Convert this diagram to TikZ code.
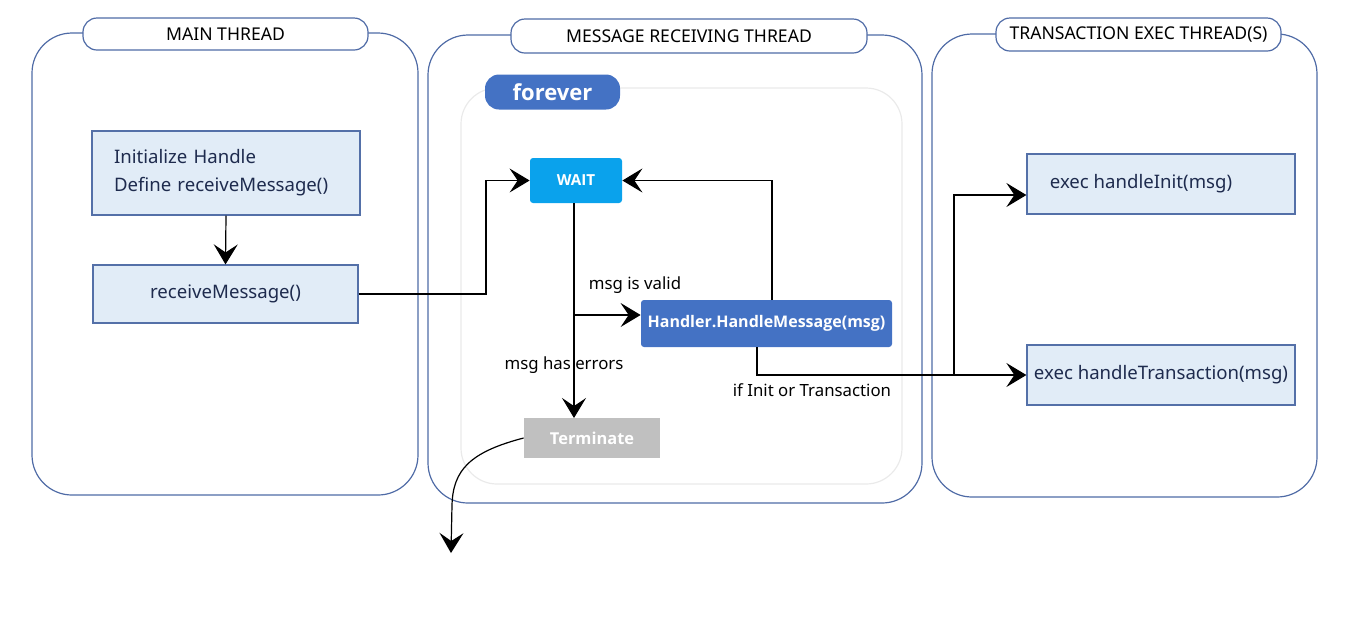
\documentclass[tikz,border=0pt]{standalone}
\usepackage{fontspec}
\setmainfont{Noto Sans}
\newfontfamily\boldsans{Open Sans}
\usetikzlibrary{arrows.meta}
\definecolor{frameblue}{HTML}{4F6BA6}
\definecolor{boxfill}{HTML}{E1ECF7}
\definecolor{boxline}{HTML}{5470A8}
\definecolor{boxtext}{HTML}{1E2B4E}
\definecolor{darkblue}{HTML}{4472C4}
\definecolor{skyblue}{HTML}{0AA2EC}
\definecolor{termgray}{HTML}{C0C0C0}
\definecolor{innerline}{HTML}{EAEAEA}
\tikzset{
  container/.style={draw=frameblue, line width=0.6pt, rounded corners=20pt, inner sep=0pt},
  pill/.style={draw=frameblue, line width=0.6pt, fill=white, rounded corners=7pt, inner sep=0pt, font=\fontsize{8.8}{10}\selectfont},
  lightbox/.style={draw=boxline, line width=0.6pt, fill=boxfill, inner sep=0pt, text=boxtext, font=\fontsize{9.3}{14}\selectfont},
  solidbox/.style={rounded corners=1.5pt, inner sep=0pt, text=white, font=\boldsans\bfseries\fontsize{7.6}{10}\selectfont},
  conn/.style={line width=0.6pt, -{Stealth[length=10pt,width=12pt,inset=4pt]}},
  lbl/.style={font=\fontsize{8.4}{10}\selectfont, inner sep=0pt}
}
\begin{document}
\begin{tikzpicture}[x=0.5pt,y=-0.5pt]
\useasboundingbox (0,0) rectangle (1350,629);
% containers
\node[container, minimum width=193pt, minimum height=231pt] (mainC) at (225,264) {};
\node[container, minimum width=247pt, minimum height=234pt] (msgC) at (675,269) {};
\node[container, minimum width=192.5pt, minimum height=231.5pt] (trC) at (1124.5,265.5) {};
\node[pill, minimum width=142.5pt, minimum height=16pt] (mainP) at (225.5,34) {MAIN THREAD};
\node[pill, minimum width=178pt, minimum height=17pt] (msgP) at (689,36) {MESSAGE RECEIVING THREAD};
\node[pill, minimum width=142.5pt, minimum height=16.5pt] (trP) at (1138.5,34.5) {TRANSACTION EXEC THREAD(S)};
% forever loop
\node[draw=innerline, line width=0.6pt, rounded corners=18pt, minimum width=220.5pt, minimum height=198pt, inner sep=0pt] (loop) at (681.5,286) {};
\node[fill=darkblue, rounded corners=7pt, minimum width=67.5pt, minimum height=17.5pt, inner sep=0pt, text=white, font=\boldsans\bfseries\fontsize{11}{12}\selectfont] (forever) at (552.5,92) {forever};
% main thread boxes
\node[lightbox, align=left, text width=112pt, inner xsep=11pt, minimum height=42pt] (init) at (226,173) {Initialize Handle\\Define receiveMessage()};
\node[lightbox, minimum width=132.5pt, minimum height=29pt] (recv) at (225.5,294) {receiveMessage()};
% message thread boxes
\node[solidbox, fill=skyblue, minimum width=46pt, minimum height=22.5pt] (wait) at (576,180.5) {WAIT};
\node[solidbox, fill=darkblue, minimum width=125.5pt, minimum height=23.5pt, font=\boldsans\bfseries\fontsize{8}{10}\selectfont] (handler) at (766.5,323.5) {Handler.HandleMessage(msg)};
\node[solidbox, fill=termgray, rounded corners=0pt, minimum width=68pt, minimum height=20pt, font=\boldsans\bfseries\fontsize{8.2}{10}\selectfont] (term) at (592,438) {Terminate};
% transaction boxes
\node[lightbox, minimum width=134pt, minimum height=30pt] (hinit) at (1161,184) {\hspace*{-20pt}exec handleInit(msg)};
\node[lightbox, minimum width=134pt, minimum height=30pt] (htrans) at (1161,375) {exec handleTransaction(msg)};
% connectors
\draw[conn] (init.south) -- (recv.north);
\draw[conn] (recv.east) -- (486,294) |- (wait.west);
\coordinate (validsplit) at (574,315);
\draw[conn] (574,203) -- (574,418);
\draw[conn] (validsplit) -- (handler.west |- validsplit);
\draw[conn] (772,300) |- (wait.east);
\coordinate (trsplit) at (954,375);
\draw[conn] (757,347) |- (htrans.west);
\draw[conn] (trsplit) |- (hinit.west |- 0,195);
\coordinate (exitpt) at (451,553);
\draw[conn] (term.west) .. controls (470,452) and (453,470) .. (452,505) -- (exitpt);
% labels
\node[lbl] (lvalid) at (635,285) {msg is valid};
\node[lbl] (lerr) at (564,365) {msg has errors};
\node[lbl] (lif) at (812,390) {if Init or Transaction};
\end{tikzpicture}
\end{document}
